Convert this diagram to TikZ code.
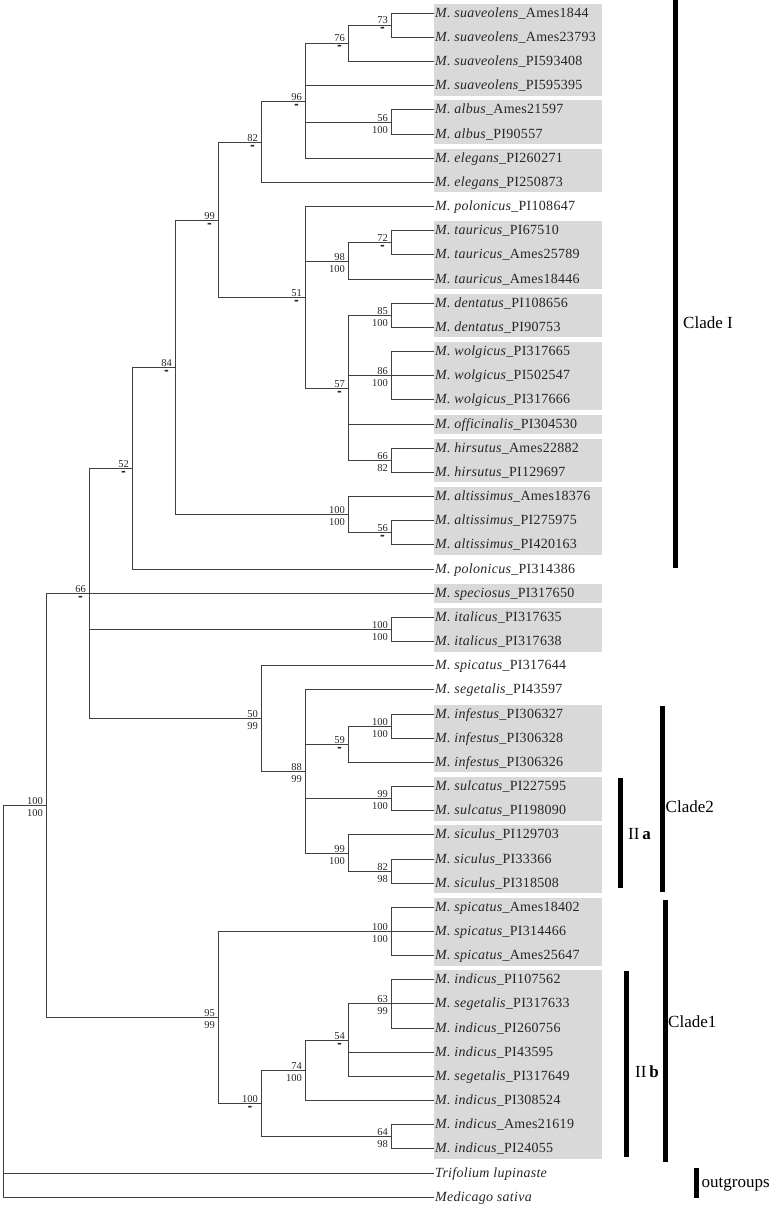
\documentclass[tikz,border=0pt]{standalone}
\usepackage{fontspec}
\setmainfont{Liberation Serif}
\newfontfamily\leaffont{Liberation Serif}[LetterSpace=2]
\newfontfamily\dashfont{DejaVu Sans}
\usetikzlibrary{calc}
\tikzset{
  br/.style={draw=black!75, line width=1.3pt},
  leaf/.style={anchor=base west, inner sep=0pt, font=\leaffont\fontsize{14}{16}\selectfont, text=black!85, xshift=1pt, yshift=-4.2pt},
  bstop/.style={anchor=base east, inner sep=0pt, font=\fontsize{10.5}{12}\selectfont, text=black!85, xshift=-3.5pt, yshift=1.5pt},
  bsbot/.style={anchor=base east, inner sep=0pt, font=\fontsize{10.5}{12}\selectfont, text=black!85, xshift=-3.5pt, yshift=-11.3pt},
  bsdash/.style={anchor=base, inner sep=0pt, font=\fontsize{11.5}{12}\dashfont\bfseries, text=black!85, yshift=-8pt},
  grp/.style={fill=black!15},
  cbar/.style={line width=5pt, draw=black},
  cladetxt/.style={anchor=west, inner sep=0pt, font=\fontsize{17}{20}\selectfont},
}
\newcommand\bsN[3]{\node[bstop] (#1t) at (#1) {#2}; \node[bsbot] (#1b) at (#1) {#3};}
\newcommand\bsD[2]{\node[bstop] (#1t) at (#1) {#2}; \node[bsdash] (#1b) at (#1t.base) {-};}
% parent, first child, last child
\newcommand\cl[3]{\draw[br] (#2) -| (#1) |- (#3);}
% parent, first child, last child, middle children
\newcommand\clm[4]{\draw[br] (#2) -| (#1) |- (#3); \foreach \c in {#4} {\draw[br] (#1 |- \c) -- (\c);}}
\newcommand\lf[3]{\node[leaf] (t#1) at (L#1) {\textit{M. #2}\_#3};}
\begin{document}
\begin{tikzpicture}[x=1pt, y=-1pt]
\useasboundingbox (0,0) rectangle (774,1207);
% leaf tips
\foreach \i in {0,...,49} {\coordinate (L\i) at (434, {floor(13.3+24.163*\i)+0.5});}
% gray groups
\foreach \a/\b in {0/3,4/5,6/7,9/11,12/13,14/16,17/17,18/19,20/22,24/24,25/26,29/31,32/33,34/36,37/39,40/47}
  {\fill[grp] (434,{13.3+24.163*\a-9.5}) rectangle (602,{13.3+24.163*\b+10});}
% internal nodes
\coordinate (root) at (3.5,805.5);
\coordinate (nA) at (46.5,805.5);
\coordinate (nB) at (89.5,593.5);
\coordinate (n52) at (132.5,468.5);
\coordinate (n84) at (175.5,367.5);
\coordinate (n99) at (218.5,220.5);
\coordinate (n82) at (261.5,142.5);
\coordinate (n96) at (305.5,101.5);
\coordinate (n76) at (348.5,43.5);
\coordinate (n73) at (391.5,25.5);
\coordinate (n56a) at (391.5,122.5);
\coordinate (n51) at (305.5,297.5);
\coordinate (n98) at (348.5,261.5);
\coordinate (n72) at (391.5,242.5);
\coordinate (n57) at (348.5,388.5);
\coordinate (n85) at (391.5,315.5);
\coordinate (n86) at (391.5,375.5);
\coordinate (n66h) at (391.5,460.5);
\coordinate (n100alt) at (348.5,514.5);
\coordinate (n56b) at (391.5,532.5);
\coordinate (n100it) at (391.5,629.5);
\coordinate (n50) at (261.5,718.5);
\coordinate (n88) at (305.5,771.5);
\coordinate (n59) at (348.5,744.5);
\coordinate (n100inf) at (391.5,726.5);
\coordinate (n99s) at (391.5,798.5);
\coordinate (n99sic) at (348.5,853.5);
\coordinate (n82s) at (391.5,871.5);
\coordinate (nC) at (218.5,1017.5);
\coordinate (n100sp) at (391.5,931.5);
\coordinate (n100i) at (261.5,1103.5);
\coordinate (n74) at (305.5,1070.5);
\coordinate (n54) at (348.5,1040.5);
\coordinate (n63) at (391.5,1003.5);
\coordinate (n64) at (391.5,1136.5);
% branches
\clm{root}{nA}{L49}{L48}
\cl{nA}{nB}{nC}
\clm{nB}{n52}{n50}{L24,n100it}
\cl{n52}{n84}{L23}
\cl{n84}{n99}{n100alt}
\cl{n99}{n82}{n51}
\cl{n82}{n96}{L7}
\clm{n96}{n76}{L6}{L3,n56a}
\cl{n76}{n73}{L2}
\cl{n73}{L0}{L1}
\cl{n56a}{L4}{L5}
\clm{n51}{L8}{n57}{n98}
\cl{n98}{n72}{L11}
\cl{n72}{L9}{L10}
\clm{n57}{n85}{n66h}{n86,L17}
\cl{n85}{L12}{L13}
\clm{n86}{L14}{L16}{L15}
\cl{n66h}{L18}{L19}
\cl{n100alt}{L20}{n56b}
\cl{n56b}{L21}{L22}
\cl{n100it}{L25}{L26}
\cl{n50}{L27}{n88}
\clm{n88}{L28}{n99sic}{n59,n99s}
\cl{n59}{n100inf}{L31}
\cl{n100inf}{L29}{L30}
\cl{n99s}{L32}{L33}
\cl{n99sic}{L34}{n82s}
\cl{n82s}{L35}{L36}
\cl{nC}{n100sp}{n100i}
\clm{n100sp}{L37}{L39}{L38}
\cl{n100i}{n74}{n64}
\cl{n74}{n54}{L45}
\clm{n54}{n63}{L44}{L43}
\clm{n63}{L40}{L42}{L41}
\cl{n64}{L46}{L47}
% support values
\bsN{nA}{100}{100}
\bsD{nB}{66}
\bsD{n52}{52}
\bsD{n84}{84}
\bsD{n99}{99}
\bsD{n82}{82}
\bsD{n96}{96}
\bsD{n76}{76}
\bsD{n73}{73}
\bsN{n56a}{56}{100}
\bsD{n51}{51}
\bsN{n98}{98}{100}
\bsD{n72}{72}
\bsD{n57}{57}
\bsN{n85}{85}{100}
\bsN{n86}{86}{100}
\bsN{n66h}{66}{82}
\bsN{n100alt}{100}{100}
\bsD{n56b}{56}
\bsN{n100it}{100}{100}
\bsN{n50}{50}{99}
\bsN{n88}{88}{99}
\bsD{n59}{59}
\bsN{n100inf}{100}{100}
\bsN{n99s}{99}{100}
\bsN{n99sic}{99}{100}
\bsN{n82s}{82}{98}
\bsN{nC}{95}{99}
\bsN{n100sp}{100}{100}
\bsD{n100i}{100}
\bsN{n74}{74}{100}
\bsD{n54}{54}
\bsN{n63}{63}{99}
\bsN{n64}{64}{98}
% leaf labels
\lf{0}{suaveolens}{Ames1844}
\lf{1}{suaveolens}{Ames23793}
\lf{2}{suaveolens}{PI593408}
\lf{3}{suaveolens}{PI595395}
\lf{4}{albus}{Ames21597}
\lf{5}{albus}{PI90557}
\lf{6}{elegans}{PI260271}
\lf{7}{elegans}{PI250873}
\lf{8}{polonicus}{PI108647}
\lf{9}{tauricus}{PI67510}
\lf{10}{tauricus}{Ames25789}
\lf{11}{tauricus}{Ames18446}
\lf{12}{dentatus}{PI108656}
\lf{13}{dentatus}{PI90753}
\lf{14}{wolgicus}{PI317665}
\lf{15}{wolgicus}{PI502547}
\lf{16}{wolgicus}{PI317666}
\lf{17}{officinalis}{PI304530}
\lf{18}{hirsutus}{Ames22882}
\lf{19}{hirsutus}{PI129697}
\lf{20}{altissimus}{Ames18376}
\lf{21}{altissimus}{PI275975}
\lf{22}{altissimus}{PI420163}
\lf{23}{polonicus}{PI314386}
\lf{24}{speciosus}{PI317650}
\lf{25}{italicus}{PI317635}
\lf{26}{italicus}{PI317638}
\lf{27}{spicatus}{PI317644}
\lf{28}{segetalis}{PI43597}
\lf{29}{infestus}{PI306327}
\lf{30}{infestus}{PI306328}
\lf{31}{infestus}{PI306326}
\lf{32}{sulcatus}{PI227595}
\lf{33}{sulcatus}{PI198090}
\lf{34}{siculus}{PI129703}
\lf{35}{siculus}{PI33366}
\lf{36}{siculus}{PI318508}
\lf{37}{spicatus}{Ames18402}
\lf{38}{spicatus}{PI314466}
\lf{39}{spicatus}{Ames25647}
\lf{40}{indicus}{PI107562}
\lf{41}{segetalis}{PI317633}
\lf{42}{indicus}{PI260756}
\lf{43}{indicus}{PI43595}
\lf{44}{segetalis}{PI317649}
\lf{45}{indicus}{PI308524}
\lf{46}{indicus}{Ames21619}
\lf{47}{indicus}{PI24055}
\node[leaf] (t48) at (L48) {\textit{Trifolium lupinaste}};
\node[leaf] (t49) at (L49) {\textit{Medicago sativa}};
% clade bars and labels
\draw[cbar] (675,0) -- (675,568);
\draw[cbar] (662,706) -- (662,892);
\draw[cbar] (620.5,778) -- (620.5,888);
\draw[cbar] (665,900) -- (665,1162);
\draw[cbar] (626.5,971) -- (626.5,1157);
\draw[cbar] (696,1168) -- (696,1198);
\node[cladetxt] (cI) at (683,322.7) {Clade I};
\node[cladetxt] (c2) at (665.5,806.7) {Clade2};
\node[cladetxt] (c2a) at (628,834) {II\,\textbf{a}};
\node[cladetxt] (c1) at (668,1022) {Clade1};
\node[cladetxt] (c2b) at (635,1071.7) {II\,\textbf{b}};
\node[cladetxt] (cout) at (701.5,1185) {outgroups};
\end{tikzpicture}
\end{document}
